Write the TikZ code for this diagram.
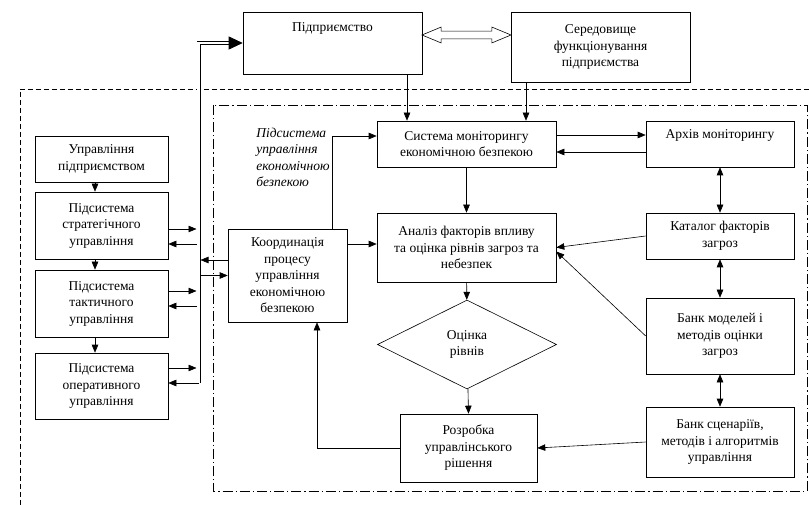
\documentclass[tikz,border=0pt]{standalone}
\usepackage{fontspec}
\setmainfont{Liberation Serif}
\usetikzlibrary{arrows.meta,shapes.geometric,shapes.arrows}

\begin{document}
\begin{tikzpicture}[x=1pt,y=-1pt,->,>={Triangle[length=8pt,width=6.5pt]},
  thick,line width=0.6pt,
  every node/.style={font=\fontsize{13.5}{16.5}\selectfont},
  box/.style={draw,rectangle,align=center,inner sep=2pt},
  level/.style={diamond,draw,inner sep=0pt,minimum width=179pt,minimum height=89pt,align=center},
  bus/.style={-,double,double distance=2.4pt,line width=0.8pt},
  bus head/.style={-{Triangle[length=14pt,width=13pt]},line width=0.8pt},
  outer frame/.style={-,dash pattern=on 5pt off 3pt},
  inner frame/.style={-,dash pattern=on 10pt off 3pt on 1.2pt off 3pt}]

  \useasboundingbox (0,0) rectangle (809,505);

  % frames
  \draw[outer frame] (809,89) -- (20,89) -- (20,505);
  \draw[inner frame] (213,105) rectangle (807,491);

  % top
  \node[box,minimum width=179pt,minimum height=62pt,
    label={[anchor=north,yshift=-7pt]north:Підприємство}] (pidpr) at (332.5,43) {};
  \node[box,minimum width=179pt,minimum height=70pt] (seredov) at (600.5,47)
    {Середовище\\функціонування\\підприємства};
  \node[-,double arrow,draw,thin,line width=0.6pt,minimum height=89pt,text height=0pt,text depth=0pt,
    inner sep=3.6pt,double arrow head extend=4pt,double arrow tip angle=45] (link) at (466.5,35) {};

  % left column
  \node[box,minimum width=133pt,minimum height=46pt] (keruv) at (101.5,159)
    {Управління\\підприємством};
  \node[box,minimum width=133pt,minimum height=67pt] (strat) at (101.5,225.5)
    {Підсистема\\стратегічного\\управління};
  \node[box,minimum width=133pt,minimum height=67pt] (takt) at (101.5,303.5)
    {Підсистема\\тактичного\\управління};
  \node[box,minimum width=133pt,minimum height=66pt] (oper) at (101.5,386)
    {Підсистема\\оперативного\\управління};
  \node[box,minimum width=119pt,minimum height=93pt] (koord) at (287.5,275.5)
    {Координація\\процесу\\управління\\економічною\\безпекою};
  \node[align=left,anchor=north west,inner sep=0pt,font=\fontsize{13.5}{16.2}\selectfont\itshape] (podsys) at (256,128)
    {Підсистема\\управління\\економічною\\безпекою};

  % middle column
  \node[box,minimum width=179pt,minimum height=46pt] (monit) at (466.5,144)
    {Система моніторингу\\економічною безпекою};
  \node[box,minimum width=179pt,minimum height=69pt] (analiz) at (466.5,247.5)
    {Аналіз факторів впливу\\та оцінка рівнів загроз та\\небезпек};
  \node[level] (ocinka) at (467,344.5) {Оцінка\\рівнів};
  \node[box,minimum width=137pt,minimum height=68pt] (rozrob) at (468.5,448)
    {Розробка\\управлінського\\рішення};

  % right column
  \node[box,minimum width=148pt,minimum height=46pt] (arkhiv) at (720,144)
    {Архів моніторингу\\[4pt]};
  \node[box,minimum width=148pt,minimum height=46pt] (katalog) at (720,236)
    {Каталог факторів\\загроз};
  \node[box,minimum width=148pt,minimum height=76pt] (bankmod) at (720,336)
    {Банк моделей і\\методів оцінки\\загроз};
  \node[box,minimum width=148pt,minimum height=70pt] (bankscen) at (720,442)
    {Банк сценаріїв,\\методів і алгоритмів\\управління};

  \coordinate (bus) at (198.5,383);

  % left links
  \draw ([xshift=-6.5pt]keruv.south) -- ([xshift=-6.5pt]strat.north);
  \draw ([xshift=-6.5pt]strat.south) -- ([xshift=-6.5pt]takt.north);
  \draw ([xshift=-6.5pt]takt.south) -- ([xshift=-6.5pt]oper.north);

  \draw[shorten >=2pt] ([yshift=-3.5pt]strat.east) -- ([yshift=-3.5pt]strat.east -| bus);
  \draw ([yshift=-18.5pt]strat.east -| bus) -- ([yshift=-18.5pt]strat.east);
  \draw[shorten >=2pt] ([yshift=12.5pt]takt.east) -- ([yshift=12.5pt]takt.east -| bus);
  \draw ([yshift=-2.5pt]takt.east -| bus) -- ([yshift=-2.5pt]takt.east);
  \draw[shorten >=2pt] ([yshift=18pt]oper.east) -- ([yshift=18pt]oper.east -| bus);
  \draw ([yshift=3pt]oper.east -| bus) -- ([yshift=3pt]oper.east);
  \draw[shorten >=2pt] ([yshift=15.5pt]koord.west) -- ([yshift=15.5pt]koord.west -| bus);
  \draw (koord.west -| bus) -- (koord.west);

  \draw[bus] (bus) |- ([xshift=-12pt]pidpr.west);
  \draw[bus head] ([xshift=-13pt]pidpr.west) -- (pidpr.west);

  % coordination
  \draw ([xshift=44.5pt]koord.north) |- ([yshift=8pt]monit.west);
  \draw ([yshift=31.5pt]koord.east) -- ([yshift=31.5pt]koord.east -| analiz.west);
  \draw (rozrob.west) -| ([xshift=29.5pt]koord.south);

  % monitoring
  \draw ([xshift=-59.5pt]monit.north |- pidpr.south) -- ([xshift=-59.5pt]monit.north);
  \draw ([xshift=-74.5pt]seredov.south) -- ([xshift=-74.5pt]seredov.south |- monit.north);
  \draw ([yshift=9pt]monit.east) -- ([yshift=9pt]monit.east -| arkhiv.west);
  \draw ([yshift=-8pt]arkhiv.west) -- ([yshift=-8pt]arkhiv.west -| monit.east);
  \draw (monit) -- (analiz);
  \draw (analiz) -- (ocinka);
  \draw (ocinka) -- (rozrob.north);

  % banks
  \draw[<->] (arkhiv) -- (katalog);
  \draw[<->] (katalog) -- (bankmod);
  \draw[<->] (bankmod) -- (bankscen);
  \draw (katalog.west) -- (analiz.east);
  \draw (bankmod.west) -- ([yshift=-4pt]analiz.east);
  \draw (bankscen.west) -- (rozrob.east);
\end{tikzpicture}
\end{document}
